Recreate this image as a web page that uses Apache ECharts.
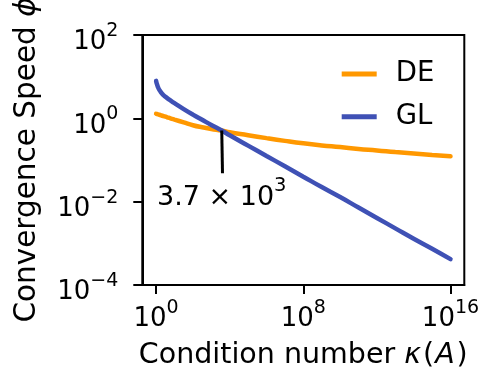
<!DOCTYPE html>
<html>
<head>
<meta charset="utf-8">
<script src="https://cdn.jsdelivr.net/npm/echarts@6/dist/echarts.min.js"></script>
<style>
html,body{margin:0;padding:0;background:#fff;}
#chart{width:481px;height:378px;}
</style>
</head>
<body>
<div id="chart"></div>
<script>
// Condition number kappa(A) samples
const kappa = [1, 1.1, 1.25, 1.5, 2, 2.5, 4, 6, 10, 31.6, 1e2, 316, 1e3, 3.7e3, 1e4, 1e5, 1e6, 1e7, 1e8, 1e9, 1e10, 1e11, 1e12, 1e13, 1e14, 1e15, 1e16];
// Convergence speed phi for DE
const phiDE = [1.29, 1.27, 1.25, 1.22, 1.17, 1.135, 1.06, 1.0, 0.933, 0.80, 0.684, 0.61, 0.556, 0.51, 0.462, 0.394, 0.335, 0.288, 0.251, 0.224, 0.204, 0.184, 0.170, 0.155, 0.143, 0.132, 0.123];
// Convergence speed phi for GL
const phiGL = [7.94, 6.68, 5.7, 4.8, 4.03, 3.61, 3.06, 2.69, 2.31, 1.67, 1.23, 0.923, 0.693, 0.51, 0.392, 0.221, 0.125, 0.0708, 0.0398, 0.0224, 0.0129, 0.00724, 0.00407, 0.00229, 0.00129, 0.000741, 0.000417];
const seriesNames = ['DE', 'GL'];
// tick exponents (base 10)
const xTickExp = [0, 8, 16];
const yTickExp = [-4, -2, 0, 2];
// annotation at the crossing point
const crossKappa = 3.7e3;
const crossPhi = 0.51;
const crossLineEndPhi = 0.048;
const crossTextPhi = 0.0155;
const crossLabelMantissa = '3.7';
const crossLabelExp = '3';

const FONT = 'DejaVu Sans';
const lg = Math.log10;

function sup(e) {
  return String(e).replace('-', '\u2212');
}
function makeRich(fs, sfs, lh) {
  return {
    b: { fontFamily: FONT, fontSize: fs, color: '#000', lineHeight: lh, verticalAlign: 'bottom' },
    s: { fontFamily: FONT, fontSize: sfs, color: '#000', lineHeight: sfs, verticalAlign: 'top' }
  };
}
const richTick = makeRich(26, 19, 34);
const richAnn = makeRich(27, 19.5, 35);
function tickFmt(v) {
  return '{b|10}{s|' + sup(Math.round(v)) + '}';
}

const toPts = (ys) => kappa.map((k, i) => [lg(k), lg(ys[i])]);

const chart = echarts.init(document.getElementById('chart'), null, { renderer: 'canvas' });
chart.setOption({
  animation: false,
  backgroundColor: '#fff',
  grid: {
    left: 142.3, right: 16.7, top: 35, bottom: 93,
    containLabel: false, outerBoundsMode: 'none',
    show: true, borderColor: '#000', borderWidth: 2, backgroundColor: 'transparent'
  },
  legend: {
    orient: 'vertical', left: 341.7, top: 59, padding: 0, itemWidth: 35, itemHeight: 5, itemGap: 12.7,
    icon: 'rect',
    textStyle: { fontFamily: FONT, fontSize: 27.5, color: '#000', lineHeight: 30, padding: [0, 0, 0, 14] },
    data: seriesNames
  },
  xAxis: {
    type: 'value', min: -0.75, max: 16.75,
    name: 'Condition number {k|κ}({a|A})',
    nameLocation: 'middle', nameGap: 56,
    nameTextStyle: {
      fontFamily: FONT, fontSize: 28.5, color: '#000',
      rich: {
        k: { fontFamily: FONT, fontSize: 28.5, fontStyle: 'italic', color: '#000', padding: [0, 2, 0, 0] },
        a: { fontFamily: FONT, fontSize: 28.5, fontStyle: 'italic', color: '#000', padding: [0, 2, 0, 1] }
      }
    },
    axisLine: { show: true, onZero: false, lineStyle: { color: '#000', width: 2 } },
    axisTick: { show: true, length: 9, lineStyle: { color: '#000', width: 2 }, customValues: xTickExp },
    axisLabel: { margin: 13.5, formatter: tickFmt, rich: richTick, customValues: xTickExp },
    splitLine: { show: false }
  },
  yAxis: {
    type: 'value', min: -4, max: 2,
    name: 'Convergence Speed {i|ϕ}',
    nameLocation: 'middle', nameGap: 100, nameRotate: 90,
    nameTextStyle: { fontFamily: FONT, fontSize: 29.5, color: '#000', rich: { i: { fontFamily: FONT, fontSize: 29.5, fontStyle: 'italic', color: '#000' } } },
    axisLine: { show: true, onZero: false, lineStyle: { color: '#000', width: 2 } },
    axisTick: { show: true, length: 9, lineStyle: { color: '#000', width: 2 }, customValues: yTickExp },
    axisLabel: { margin: 24, padding: [7, 0, 0, 0], formatter: tickFmt, rich: richTick, customValues: yTickExp },
    splitLine: { show: false }
  },
  series: [
    {
      name: seriesNames[0], type: 'line', data: toPts(phiDE), smooth: 0.5, showSymbol: false,
      lineStyle: { color: '#FF9800', width: 4.5, cap: 'round' }, itemStyle: { color: '#FF9800' }, z: 2
    },
    {
      name: seriesNames[1], type: 'line', data: toPts(phiGL), smooth: 0.5, showSymbol: false,
      lineStyle: { color: '#3F51B5', width: 4.5, cap: 'round' }, itemStyle: { color: '#3F51B5' }, z: 3,
      markLine: {
        symbol: ['none', 'none'], silent: true, animation: false,
        lineStyle: { color: '#000', width: 3, type: 'solid' },
        label: { show: false },
        data: [[
          { coord: [lg(crossKappa), lg(crossPhi)] },
          { coord: [lg(crossKappa) + 0.04, lg(crossLineEndPhi)] }
        ]]
      },
      markPoint: {
        symbol: 'circle', symbolSize: 0, silent: true, animation: false,
        label: {
          show: true, position: 'inside',
          formatter: '{b|' + crossLabelMantissa + ' × 10}{s|' + crossLabelExp + '}',
          rich: richAnn
        },
        data: [{ coord: [lg(crossKappa), lg(crossTextPhi)] }]
      }
    }
  ]
});
</script>
</body>
</html>
